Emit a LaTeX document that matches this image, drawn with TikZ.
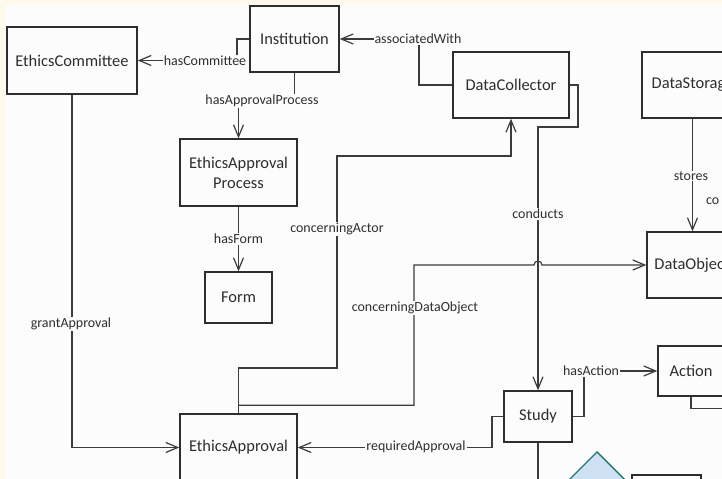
\documentclass[tikz,border=0pt]{standalone}
\usepackage{fontspec}
\setmainfont{Carlito}
\usetikzlibrary{arrows.meta,calc}
\definecolor{paper}{HTML}{FCFCFC}
\definecolor{margin}{HTML}{FFF9EC}
\definecolor{ink}{HTML}{2E2E2E}
\definecolor{wire}{HTML}{3C3C3C}
\definecolor{decfill}{HTML}{CFE2F3}
\definecolor{decline}{HTML}{1F7A6A}

\begin{document}
\begin{tikzpicture}[x=1bp,y=-1bp,
  box/.style={draw=ink, line width=1.4bp, fill=paper, inner sep=0pt,
              font=\fontsize{16.5}{20}\selectfont, align=center, text=ink},
  lbl/.style={fill=paper, inner sep=1bp, font=\fontsize{14}{16}\selectfont, text=ink},
  conn/.style={draw=wire, line width=1.2bp, line join=miter},
  arr/.style={conn, -{Straight Barb[length=12bp,width=10bp]}},
]
\useasboundingbox (0,0) rectangle (722,479);
\clip (0,0) rectangle (722,479);
\fill[margin] (0,0) rectangle (722,479);
\fill[paper] (5,5) rectangle (722,479);

% classes
\node[box, minimum width=130bp, minimum height=67bp] (ec)    at (72,60.5)    {EthicsCommittee};
\node[box, minimum width=89bp,  minimum height=66bp] (inst)  at (294.5,39)   {Institution};
\node[box, minimum width=117bp, minimum height=67bp] (eap)   at (238.5,172.5){EthicsApproval\\Process};
\node[box, minimum width=67bp,  minimum height=51bp] (form)  at (238.5,297.5){Form};
\node[box, minimum width=117bp, minimum height=67bp] (ea)    at (238.5,447.5){EthicsApproval};
\node[box, minimum width=116bp, minimum height=66bp] (dc)    at (511,85)     {DataCollector};
\node[box, minimum width=101bp, minimum height=66bp] (ds)    at (692.5,85)   {DataStorage};
\node[box, minimum width=90bp,  minimum height=66bp] (dob)   at (692,265)    {DataObject};
\node[box, minimum width=68bp,  minimum height=51bp] (study) at (538,416.5)  {Study};
\node[box, minimum width=66bp,  minimum height=50bp] (act)   at (691,371)    {Action};
\node[box, minimum width=69bp,  minimum height=50bp] (stub)  at (666.5,500)  {};
\node[draw=decline, fill=decfill, line width=1.4bp, minimum size=71bp, rotate=45, inner sep=0pt] (dec) at (597,502.2) {};

% associations
\draw[arr] (inst.west) -- (237,39) |- (ec.east);
\draw[arr] (inst.south) -- (294.5,101) -| (eap.north);
\draw[arr] (dc.west) -| (419,39) -- (inst.east);
\draw[arr] (dc.east) -- (578,85) -- (578,127) -| (study.north);
\draw[arr] (ea.north) |- (337,368) -- (337,156) -| (dc.south);
\draw[arr] ($(ea.north)+(0,-8)$) -| (414,265) -- (534,265) arc[start angle=180, end angle=360, radius=4] -- (dob.west);
\draw[arr] (ec.south) |- (ea.west);
\draw[arr] (study.west) -- (492,416.5) |- (ea.east);
\draw[arr] (study.east) -- (584,416.5) |- (act.west);
\draw[arr] (eap.south) -- (form.north);
\draw[arr] (ds.south) -- (ds.south |- dob.north);
\draw[conn] (study.south) -- ++(0,50);
\draw[conn] (act.south) -- ++(0,12) -- ++(60,0);

% association labels
\node[lbl] (lcom)  at (205,61)    {hasCommittee};
\node[lbl] (lproc) at (262,101)   {hasApprovalProcess};
\node[lbl] (lassoc) at (418,39)   {associatedWith};
\node[lbl] (lcond) at (538,214)   {conducts};
\node[lbl] (lactor) at (337,229)  {concerningActor};
\node[lbl] (ldata) at (415,308)   {concerningDataObject};
\node[lbl] (lgrant) at (71,324)   {grantApproval};
\node[lbl] (lreq)  at (416,447)   {requiredApproval};
\node[lbl] (lact)  at (591,371)   {hasAction};
\node[lbl] (lform) at (238.5,239) {hasForm};
\node[lbl] (lstore) at (691,176)  {stores};
\node[lbl, anchor=west, fill=none] (lco) at (705,201) {co};
\end{tikzpicture}
\end{document}
